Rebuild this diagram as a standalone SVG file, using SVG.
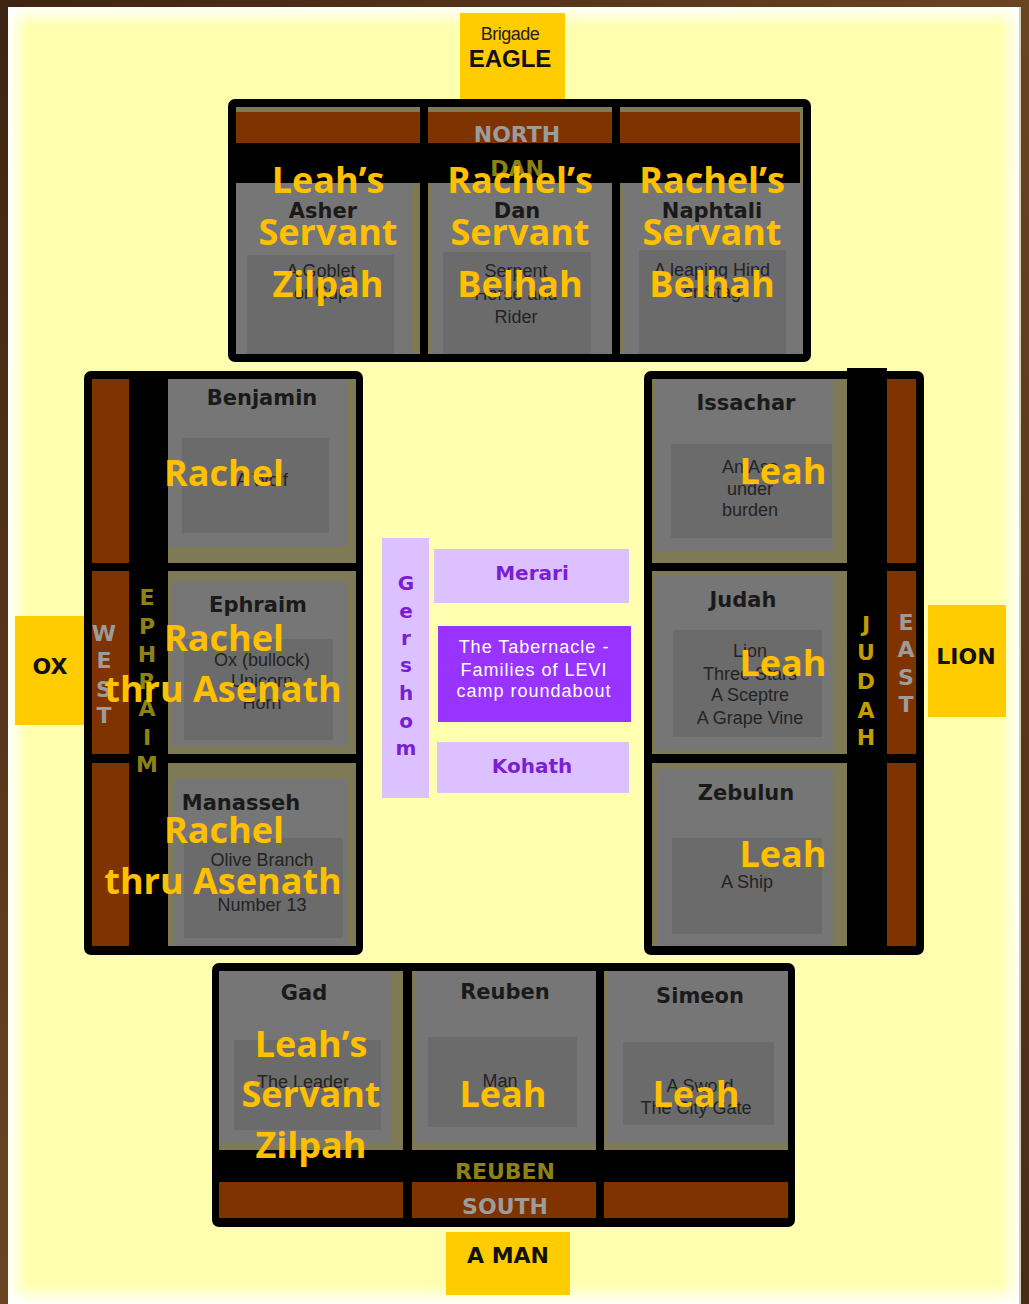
<svg xmlns="http://www.w3.org/2000/svg" width="1029" height="1304" viewBox="0 0 1029 1304">
<defs>
<linearGradient id="fl" x1="0" y1="0" x2="1" y2="0"><stop offset="0" stop-color="#fff" stop-opacity="0.95"/><stop offset="1" stop-color="#fff" stop-opacity="0"/></linearGradient>
<linearGradient id="fr" x1="1" y1="0" x2="0" y2="0"><stop offset="0" stop-color="#fff" stop-opacity="0.95"/><stop offset="1" stop-color="#fff" stop-opacity="0"/></linearGradient>
<linearGradient id="ft" x1="0" y1="0" x2="0" y2="1"><stop offset="0" stop-color="#fff" stop-opacity="0.95"/><stop offset="1" stop-color="#fff" stop-opacity="0"/></linearGradient>
<linearGradient id="fb" x1="0" y1="1" x2="0" y2="0"><stop offset="0" stop-color="#fff" stop-opacity="0.95"/><stop offset="1" stop-color="#fff" stop-opacity="0"/></linearGradient>
<linearGradient id="wood" x1="0" y1="0" x2="1" y2="1"><stop offset="0" stop-color="#3e2412"/><stop offset="0.5" stop-color="#6b4422"/><stop offset="1" stop-color="#4a2c16"/></linearGradient>
<style>
.bk{fill:#000}
.br{fill:#7f3300}
.ol{fill:#7e7a55}
.gy{fill:#767676}
.dk{fill:#6b6b6b}
.yb{fill:#ffcc00}
.lv{fill:#ddc0ff}
.tn{font-family:"DejaVu Sans",Verdana,sans-serif;font-weight:700;font-size:21px;fill:#1a1a1a;text-anchor:middle}
.em{font-family:"Liberation Sans",Arial,sans-serif;font-size:18px;fill:#232323;text-anchor:middle}
.ov{font-family:"Open Sans","Noto Sans",sans-serif;font-weight:700;font-size:36px;fill:#ffc000;text-anchor:middle}
.dir{font-family:"DejaVu Sans",Verdana,sans-serif;font-weight:700;font-size:22px;fill:#9c9c9c;text-anchor:middle}
.fam{font-family:"DejaVu Sans",Verdana,sans-serif;font-weight:700;font-size:22px;fill:#8f8215;text-anchor:middle}
.jd{font-family:"DejaVu Sans",Verdana,sans-serif;font-weight:700;font-size:22px;fill:#c39c00;text-anchor:middle}
.bl{font-family:"DejaVu Sans",Verdana,sans-serif;font-weight:700;font-size:22px;fill:#111;text-anchor:middle}
.pt{font-family:"DejaVu Sans",Verdana,sans-serif;font-weight:700;font-size:20px;fill:#7a1ed6;text-anchor:middle}
.wt{font-family:"Liberation Sans",Arial,sans-serif;font-size:18px;fill:#fff;text-anchor:middle;letter-spacing:1px}
</style>
</defs>

<g id="background">
<rect x="0" y="0" width="1029" height="1304" fill="url(#wood)"/>
<rect x="8" y="7" width="1012" height="1297" fill="#ffffb0"/>
<rect x="8" y="7" width="20" height="1297" fill="url(#fl)"/>
<rect x="1000" y="7" width="20" height="1297" fill="url(#fr)"/>
<rect x="8" y="7" width="1012" height="20" fill="url(#ft)"/>
<rect x="8" y="1284" width="1012" height="20" fill="url(#fb)"/>
<rect x="1019" y="7" width="2" height="1297" fill="#cfcfc0"/>
</g>

<g id="connectors"/>

<!-- NORTH -->
<g id="brigade-eagle">
<rect class="yb" x="460" y="13" width="105" height="88"/>
<text x="510" y="40" font-family="Liberation Sans, Arial, sans-serif" font-size="18" fill="#222" text-anchor="middle" letter-spacing="-0.5">Brigade</text>
<text x="510" y="67" font-family="Liberation Sans, Arial, sans-serif" font-size="24" font-weight="700" fill="#111" text-anchor="middle">EAGLE</text>
</g>

<g id="north-camp">
<rect class="bk" x="228" y="99" width="583" height="263" rx="7"/>
<rect class="ol" x="236" y="107" width="184" height="247"/>
<rect class="br" x="236" y="112" width="184" height="31"/>
<rect class="bk" x="236" y="143" width="184" height="40"/>
<rect class="gy" x="236" y="183" width="176" height="171"/>
<rect class="dk" x="247" y="255" width="147" height="99"/>
<rect class="ol" x="428" y="107" width="184" height="247"/>
<rect class="br" x="428" y="112" width="184" height="31"/>
<rect class="bk" x="428" y="143" width="184" height="40"/>
<rect class="gy" x="432" y="183" width="180" height="171"/>
<rect class="dk" x="443" y="252" width="148" height="102"/>
<rect class="ol" x="620" y="107" width="183" height="247"/>
<rect class="br" x="620" y="112" width="180" height="31"/>
<rect class="bk" x="620" y="143" width="180" height="40"/>
<rect class="gy" x="624" y="183" width="179" height="171"/>
<rect class="dk" x="639" y="250" width="147" height="104"/>
<text class="dir" x="517" y="142">NORTH</text>
<text class="fam" x="517" y="176">DAN</text>
</g>

<g id="asher">
<text class="tn" x="323" y="218">Asher</text>
<text class="em" x="321" y="277">A Goblet</text>
<text class="em" x="321" y="299">or Cup</text>
<text class="ov" x="328" y="193">Leah’s</text>
<text class="ov" x="328" y="245">Servant</text>
<text class="ov" x="328" y="297">Zilpah</text>
</g>

<g id="dan">
<text class="tn" x="517" y="218">Dan</text>
<text class="em" x="516" y="277">Serpent</text>
<text class="em" x="516" y="300">Horse and</text>
<text class="em" x="516" y="323">Rider</text>
<text class="ov" x="520" y="193">Rachel’s</text>
<text class="ov" x="520" y="245">Servant</text>
<text class="ov" x="520" y="297">Belhah</text>
</g>

<g id="naphtali">
<text class="tn" x="712" y="218">Naphtali</text>
<text class="em" x="712" y="276">A leaping Hind</text>
<text class="em" x="712" y="298">or Stag</text>
<text class="ov" x="712" y="193">Rachel’s</text>
<text class="ov" x="712" y="245">Servant</text>
<text class="ov" x="712" y="297">Belhah</text>
</g>

<!-- WEST -->
<g id="brigade-ox">
<rect class="yb" x="15" y="616" width="69" height="109"/>
<text class="bl" x="50" y="674">OX</text>
</g>

<g id="west-camp">
<rect class="bk" x="84" y="371" width="279" height="584" rx="7"/>
<rect class="br" x="92" y="379" width="37" height="184"/>
<rect class="br" x="92" y="571" width="37" height="183"/>
<rect class="br" x="92" y="763" width="37" height="183"/>
<rect class="ol" x="168" y="379" width="188" height="184"/>
<rect class="gy" x="168" y="379" width="180" height="168"/>
<rect class="dk" x="182" y="438" width="147" height="95"/>
<rect class="ol" x="168" y="571" width="188" height="183"/>
<rect class="gy" x="172" y="581" width="176" height="165"/>
<rect class="dk" x="184" y="639" width="149" height="101"/>
<rect class="ol" x="168" y="763" width="188" height="183"/>
<rect class="gy" x="174" y="779" width="174" height="167"/>
<rect class="dk" x="184" y="838" width="159" height="100"/>
<text class="dir" x="104"><tspan x="104" y="641">W</tspan><tspan x="104" y="668">E</tspan><tspan x="104" y="697">S</tspan><tspan x="104" y="723">T</tspan></text>
<text class="fam" x="147"><tspan x="147" y="605">E</tspan><tspan x="147" y="634">P</tspan><tspan x="147" y="662">H</tspan><tspan x="147" y="689">R</tspan><tspan x="147" y="716">A</tspan><tspan x="147" y="745">I</tspan><tspan x="147" y="772">M</tspan></text>
</g>

<g id="benjamin">
<text class="tn" x="262" y="405">Benjamin</text>
<text class="em" x="262" y="486">A Wolf</text>
<text class="ov" x="224" y="486">Rachel</text>
</g>

<g id="ephraim">
<text class="tn" x="258" y="612">Ephraim</text>
<text class="em" x="262" y="666">Ox (bullock)</text>
<text class="em" x="262" y="687">Unicorn</text>
<text class="em" x="262" y="709">Horn</text>
<text class="ov" x="224" y="651">Rachel</text>
<text class="ov" x="223" y="702">thru Asenath</text>
</g>

<g id="manasseh">
<text class="tn" x="241" y="810">Manasseh</text>
<text class="em" x="262" y="866">Olive Branch</text>
<text class="em" x="262" y="911">Number 13</text>
<text class="ov" x="224" y="843">Rachel</text>
<text class="ov" x="223" y="894">thru Asenath</text>
</g>

<!-- CENTER -->
<g id="gershom">
<rect class="lv" x="382" y="538" width="47" height="260"/>
<text class="pt"><tspan x="406" y="590">G</tspan><tspan x="406" y="618">e</tspan><tspan x="406" y="645">r</tspan><tspan x="406" y="672">s</tspan><tspan x="406" y="700">h</tspan><tspan x="406" y="728">o</tspan><tspan x="406" y="755">m</tspan></text>
</g>

<g id="merari">
<rect class="lv" x="434" y="549" width="195" height="54"/>
<text class="pt" x="532" y="580">Merari</text>
</g>

<g id="tabernacle">
<rect x="438" y="626" width="193" height="96" fill="#9933ff"/>
<text class="wt" x="534" y="653">The Tabernacle -</text>
<text class="wt" x="534" y="676">Families of LEVI</text>
<text class="wt" x="534" y="697">camp roundabout</text>
</g>

<g id="kohath">
<rect class="lv" x="437" y="742" width="192" height="51"/>
<text class="pt" x="532" y="773">Kohath</text>
</g>

<!-- EAST -->
<g id="brigade-lion">
<rect class="yb" x="928" y="605" width="78" height="112"/>
<text class="bl" x="966" y="664" font-size="21">LION</text>
</g>

<g id="east-camp">
<rect class="bk" x="644" y="371" width="280" height="584" rx="7"/>
<rect class="bk" x="847" y="368" width="40" height="6"/>
<rect class="br" x="887" y="379" width="29" height="184"/>
<rect class="br" x="887" y="571" width="29" height="183"/>
<rect class="br" x="887" y="763" width="29" height="183"/>
<rect class="ol" x="652" y="379" width="195" height="184"/>
<rect class="gy" x="656" y="379" width="177" height="172"/>
<rect class="dk" x="671" y="444" width="161" height="94"/>
<rect class="ol" x="652" y="571" width="195" height="183"/>
<rect class="gy" x="656" y="576" width="177" height="174"/>
<rect class="dk" x="673" y="630" width="149" height="107"/>
<rect class="ol" x="652" y="763" width="195" height="183"/>
<rect class="gy" x="658" y="769" width="176" height="177"/>
<rect class="dk" x="672" y="838" width="150" height="96"/>
<text class="jd"><tspan x="866" y="632">J</tspan><tspan x="866" y="660">U</tspan><tspan x="866" y="689">D</tspan><tspan x="866" y="718">A</tspan><tspan x="866" y="745">H</tspan></text>
<text class="dir"><tspan x="906" y="630">E</tspan><tspan x="906" y="657">A</tspan><tspan x="906" y="685">S</tspan><tspan x="906" y="712">T</tspan></text>
</g>

<g id="issachar">
<text class="tn" x="746" y="410">Issachar</text>
<text class="em" x="750" y="473">An Ass</text>
<text class="em" x="750" y="495">under</text>
<text class="em" x="750" y="516">burden</text>
<text class="ov" x="783" y="484">Leah</text>
</g>

<g id="judah">
<text class="tn" x="743" y="607">Judah</text>
<text class="em" x="750" y="657">Lion</text>
<text class="em" x="750" y="680">Three Stars</text>
<text class="em" x="750" y="701">A Sceptre</text>
<text class="em" x="750" y="724">A Grape Vine</text>
<text class="ov" x="783" y="676">Leah</text>
</g>

<g id="zebulun">
<text class="tn" x="746" y="800">Zebulun</text>
<text class="em" x="747" y="888">A Ship</text>
<text class="ov" x="783" y="867">Leah</text>
</g>

<!-- SOUTH -->
<g id="south-camp">
<rect class="bk" x="212" y="963" width="583" height="264" rx="7"/>
<rect class="ol" x="219" y="971" width="184" height="179"/>
<rect class="gy" x="219" y="971" width="172" height="172"/>
<rect class="dk" x="234" y="1040" width="147" height="90"/>
<rect class="bk" x="219" y="1150" width="184" height="32"/>
<rect class="br" x="219" y="1182" width="184" height="36"/>
<rect class="ol" x="412" y="971" width="184" height="179"/>
<rect class="gy" x="416" y="971" width="180" height="172"/>
<rect class="dk" x="428" y="1037" width="149" height="90"/>
<rect class="bk" x="412" y="1150" width="184" height="32"/>
<rect class="br" x="412" y="1182" width="184" height="36"/>
<rect class="ol" x="604" y="971" width="184" height="179"/>
<rect class="gy" x="608" y="971" width="180" height="172"/>
<rect class="dk" x="623" y="1042" width="151" height="83"/>
<rect class="bk" x="604" y="1150" width="184" height="32"/>
<rect class="br" x="604" y="1182" width="184" height="36"/>
<text class="fam" x="505" y="1179" fill="#7d7520">REUBEN</text>
<text class="dir" x="505" y="1214">SOUTH</text>
</g>

<g id="gad">
<text class="tn" x="304" y="1000">Gad</text>
<text class="em" x="303" y="1088">The Leader</text>
<text class="ov" x="311" y="1057">Leah’s</text>
<text class="ov" x="311" y="1107">Servant</text>
<text class="ov" x="311" y="1158">Zilpah</text>
</g>

<g id="reuben">
<text class="tn" x="505" y="999">Reuben</text>
<text class="em" x="500" y="1087">Man</text>
<text class="ov" x="503" y="1107">Leah</text>
</g>

<g id="simeon">
<text class="tn" x="700" y="1003">Simeon</text>
<text class="em" x="700" y="1092">A Sword</text>
<text class="em" x="696" y="1114">The City Gate</text>
<text class="ov" x="696" y="1107">Leah</text>
</g>

<g id="brigade-man">
<rect class="yb" x="446" y="1232" width="124" height="63"/>
<text class="bl" x="508" y="1263">A MAN</text>
</g>
</svg>
